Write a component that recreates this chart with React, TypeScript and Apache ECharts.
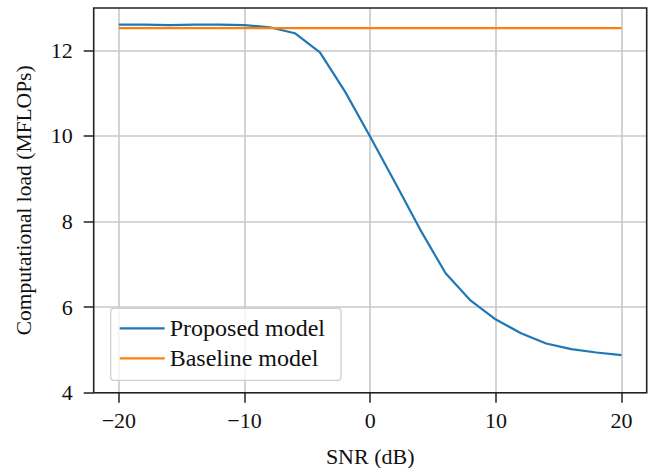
import React, { useEffect, useRef } from 'react';
import * as echarts from 'echarts';

const snr = [-20, -18, -16, -14, -12, -10, -8, -6, -4, -2, 0, 2, 4, 6, 8, 10, 12, 14, 16, 18, 20];
const proposed = [12.6, 12.6, 12.59, 12.6, 12.6, 12.59, 12.54, 12.4, 11.955, 11.035, 9.98, 8.9, 7.8, 6.79, 6.15, 5.71, 5.39, 5.15, 5.02, 4.94, 4.88];
const baseline = [12.52, 12.52, 12.52, 12.52, 12.52, 12.52, 12.52, 12.52, 12.52, 12.52, 12.52, 12.52, 12.52, 12.52, 12.52, 12.52, 12.52, 12.52, 12.52, 12.52, 12.52];
const seriesNames = ['Proposed model', 'Baseline model'];
const xLabel = 'SNR (dB)';
const yLabel = 'Computational load (MFLOPs)';

const FONT = 'Liberation Serif';

export default function App() {
  const ref = useRef<HTMLDivElement>(null);
  useEffect(() => {
    if (!ref.current) return;
    const chart = echarts.init(ref.current, undefined, { renderer: 'svg' });
    const L = 93.7, R = 13.3, T = 8, B = 75.3;
    const W = 660 - L - R;
    const pxPerX = W / 44;
    const H = 468 - T - B;
    const pxPerY = H / 8.99;
    const tick = { show: true, length: 10, lineStyle: { color: '#222', width: 1.5 } };
    const split = { show: true, lineStyle: { color: '#c8c8c8', width: 1.6 } };
    const label = { fontSize: 22, fontFamily: FONT, color: '#111' };
    chart.setOption({
      animation: false,
      grid: [
        { left: L, right: R, top: T, bottom: B },
        { left: L + 2 * pxPerX, right: R + 2 * pxPerX, top: T, bottom: B },
        { left: L, right: R, top: T + 0.99 * pxPerY, bottom: B },
      ],
      xAxis: [
        { gridIndex: 0, type: 'value', min: -22, max: 22, show: false },
        {
          gridIndex: 1, type: 'value', min: -20, max: 20, interval: 10,
          axisLine: { show: false, onZero: false }, axisTick: tick, splitLine: split,
          axisLabel: { ...label, margin: 17, formatter: (v: number) => String(v).replace('-', '\u2212') },
        },
        { gridIndex: 2, type: 'value', min: -22, max: 22, show: false },
      ],
      yAxis: [
        { gridIndex: 0, type: 'value', min: 4, max: 12.99, show: false },
        { gridIndex: 1, type: 'value', min: 4, max: 12.99, show: false },
        {
          gridIndex: 2, type: 'value', min: 4, max: 12, interval: 2,
          axisLine: { show: false, onZero: false }, axisTick: tick, splitLine: split,
          axisLabel: { ...label, margin: 21 },
        },
      ],
      legend: {
        orient: 'vertical', left: 110.7, top: 308.3,
        padding: [8, 16, 10, 9], itemWidth: 45, itemHeight: 2.2, itemGap: 6,
        icon: 'rect',
        backgroundColor: 'rgba(255,255,255,0.8)', borderColor: '#d0d0d0', borderWidth: 1.3, borderRadius: 3,
        textStyle: { fontSize: 24, fontFamily: FONT, color: '#111', lineHeight: 24 },
        data: seriesNames,
      },
      series: [
        {
          name: seriesNames[0], type: 'line', xAxisIndex: 0, yAxisIndex: 0, symbol: 'none',
          data: snr.map((x, i) => [x, proposed[i]]),
          lineStyle: { color: '#1f77b4', width: 2.2 }, itemStyle: { color: '#1f77b4' },
        },
        {
          name: seriesNames[1], type: 'line', xAxisIndex: 0, yAxisIndex: 0, symbol: 'none',
          data: snr.map((x, i) => [x, baseline[i]]),
          lineStyle: { color: '#ff7f0e', width: 2.2 }, itemStyle: { color: '#ff7f0e' },
        },
      ],
      graphic: [
        {
          type: 'rect', z: 100, silent: true,
          shape: { x: L, y: T, width: W, height: H },
          style: { fill: 'none', stroke: '#222', lineWidth: 1.6 },
        },
        {
          type: 'text', x: L + W / 2, y: 456,
          style: { text: xLabel, fontSize: 22, fontFamily: FONT, fill: '#111', textAlign: 'center', textVerticalAlign: 'middle' },
        },
        {
          type: 'text', x: 24, y: T + H / 2, rotation: Math.PI / 2,
          style: { text: yLabel, fontSize: 21.5, fontFamily: FONT, fill: '#111', textAlign: 'center', textVerticalAlign: 'middle' },
        },
      ],
    });
    return () => chart.dispose();
  }, []);
  return <div ref={ref} style={{ width: 660, height: 468, position: 'absolute', left: 0, top: 0 }} />;
}
